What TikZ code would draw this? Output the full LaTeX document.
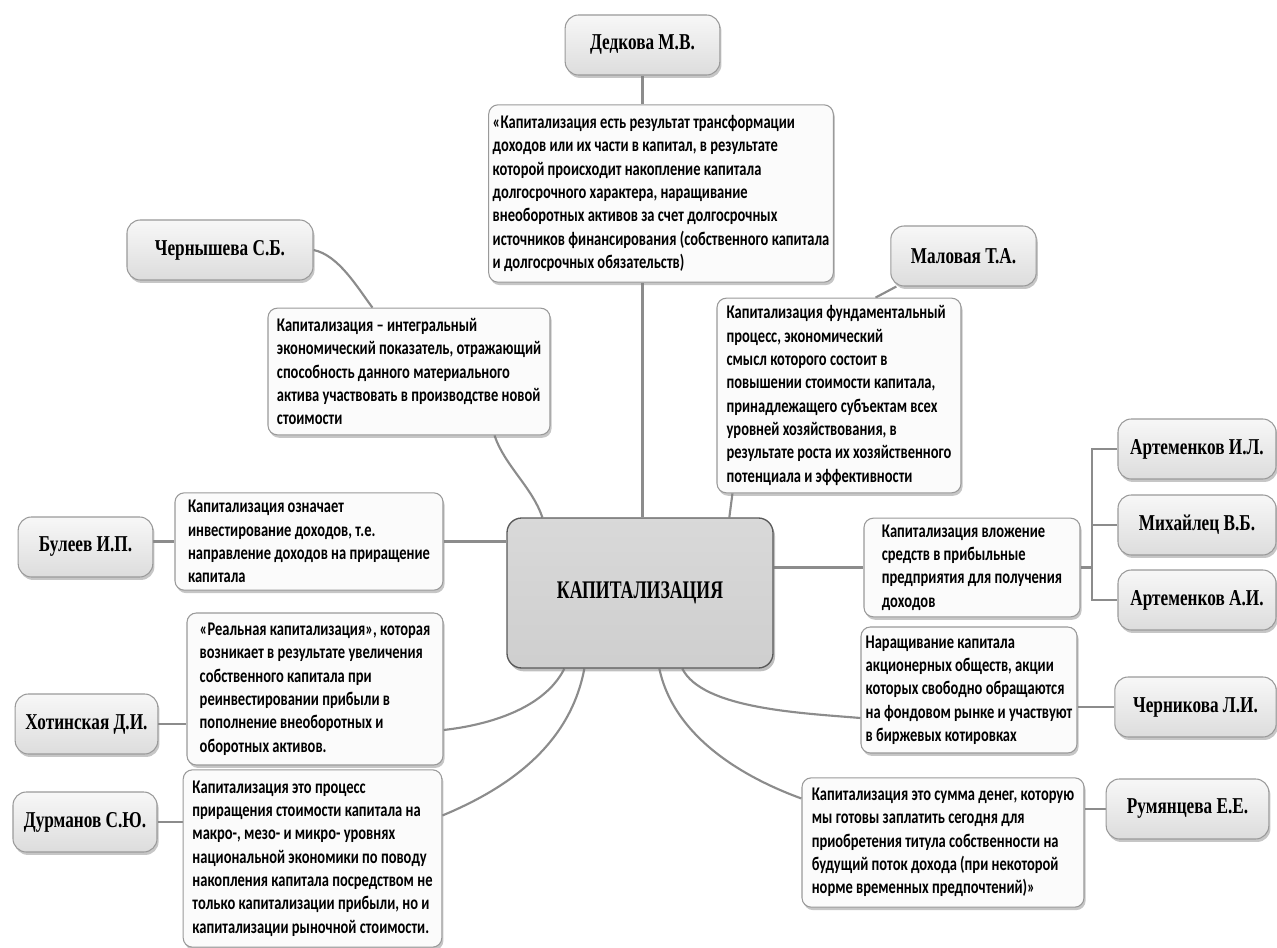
\documentclass[tikz,border=0pt]{standalone}
\usepackage{fontspec}
\setmainfont{Liberation Serif}[FakeStretch=0.76]
\newfontfamily\deffont{Carlito}[FakeStretch=0.75]
\newfontfamily\hubfont{Liberation Serif}[FakeStretch=0.7]
\usepackage{tikz}
\usetikzlibrary{positioning,calc,shadows,backgrounds}

\definecolor{linkgray}{HTML}{8C8C8C}
\definecolor{edgegray}{HTML}{9A9A9A}

\begin{document}
\begin{tikzpicture}[x=0.75pt,y=-0.75pt,
    link/.style={draw=linkgray,line width=1.6pt},
    author/.style={draw=edgegray,line width=0.8pt,rounded corners=10pt,
      top color=gray!6,bottom color=gray!27,minimum width=#1,minimum height=45pt,
      font=\bfseries\fontsize{17}{20}\selectfont,
      drop shadow={shadow xshift=1.2pt,shadow yshift=-2.2pt,opacity=.45}},
    idea/.style 2 args={draw=edgegray,line width=0.8pt,rounded corners=7pt,fill=gray!3,
      minimum width=#1,minimum height=#2,inner sep=3pt,align=left,
      font=\deffont\bfseries\fontsize{14.5}{17.5}\selectfont,
      drop shadow={shadow xshift=1.2pt,shadow yshift=-2.2pt,opacity=.45}},
    hub/.style={draw=gray!70!black,line width=1pt,rounded corners=11pt,
      top color=gray!30,bottom color=gray!38,
      minimum width=199.5pt,minimum height=112.5pt,font=\hubfont\bfseries\fontsize{19}{22}\selectfont,
      drop shadow={shadow xshift=1.5pt,shadow yshift=-2.5pt,opacity=.5}}]
  \useasboundingbox (0,0) rectangle (1277,948);

  \node[hub] (hub) at (640,593) {КАПИТАЛИЗАЦИЯ};

  \node[author=116pt] (dedk) at (642.5,45) {Дедкова М.В.};
  \node[author=139.5pt] (chern) at (220,250) {Чернышева С.Б.};
  \node[author=109pt] (malov) at (963.5,256) {Маловая Т.А.};
  \node[author=118.5pt] (artIL) at (1197,449) {Артеменков И.Л.};
  \node[author=118.5pt] (mikh) at (1197,525) {Михайлец В.Б.};
  \node[author=118.5pt] (artAI) at (1197,600) {Артеменков А.И.};
  \node[author=121pt] (chernik) at (1195.5,707) {Черникова Л.И.};
  \node[author=122pt] (rumyan) at (1187.5,809) {Румянцева Е.Е.};
  \node[author=101pt] (buleev) at (85.5,547) {Булеев И.П.};
  \node[author=107pt] (khot) at (86.5,724) {Хотинская Д.И.};
  \node[author=108pt] (durm) at (85,822) {Дурманов С.Ю.};

  \node[idea={256.5pt}{133pt}] (dDedk) at (661,193.5)
    {«Капитализация есть результат трансформации\\
     доходов или их части в капитал, в результате\\
     которой происходит накопление капитала\\
     долгосрочного характера, наращивание\\
     внеоборотных активов за счет долгосрочных\\
     источников финансирования (собственного капитала\\
     и долгосрочных обязательств)};
  \node[idea={211.5pt}{95pt}] (dChern) at (409,371.5)
    {Капитализация – интегральный\\
     экономический показатель, отражающий\\
     способность данного материального\\
     актива участвовать в производстве новой\\
     стоимости};
  \node[idea={183pt}{146pt}] (dMalov) at (839,395.5)
    {Капитализация фундаментальный\\
     процесс, экономический\\
     смысл которого состоит в\\
     повышении стоимости капитала,\\
     принадлежащего субъектам всех\\
     уровней хозяйствования, в\\
     результате роста их хозяйственного\\
     потенциала и эффективности};
  \node[idea={162pt}{74pt}] (dVloz) at (972,567.5)
    {Капитализация вложение\\
     средств в прибыльные\\
     предприятия для получения\\
     доходов};
  \node[idea={162pt}{94.5pt}] (dNar) at (969,690)
    {Наращивание капитала\\
     акционерных обществ, акции\\
     которых свободно обращаются\\
     на фондовом рынке и участвуют\\
     в биржевых котировках};
  \node[idea={211.5pt}{97pt}] (dRum) at (943,842.5)
    {Капитализация это сумма денег, которую\\
     мы готовы заплатить сегодня для\\
     приобретения титула собственности на\\
     будущий поток дохода (при некоторой\\
     норме временных предпочтений)»};
  \node[idea={201pt}{73pt}] (dBul) at (309,541.5)
    {Капитализация означает\\
     инвестирование доходов, т.е.\\
     направление доходов на приращение\\
     капитала};
  \node[idea={192pt}{114pt}] (dKhot) at (315,689)
    {«Реальная капитализация», которая\\
     возникает в результате увеличения\\
     собственного капитала при\\
     реинвестировании прибыли в\\
     пополнение внеоборотных и\\
     оборотных активов.};
  \node[idea={194pt}{133pt}] (dDurm) at (312.5,858.5)
    {Капитализация это процесс\\
     приращения стоимости капитала на\\
     макро-, мезо- и микро- уровнях\\
     национальной экономики по поводу\\
     накопления капитала посредством не\\
     только капитализации прибыли, но и\\
     капитализации рыночной стоимости.};

  \coordinate (brk) at (1092,525);

  \begin{scope}[on background layer]
  \draw[link] (dedk.south) -- (dedk.south |- dDedk.north);
  \draw[link] (dedk.south |- dDedk.south) -- (dedk.south |- hub.north);
  \draw[link] (chern.east) .. controls +(25,5) and +(-15,-20) .. ($(dChern.north west)+(105,0)$);
  \draw[link] ($(dChern.south west)+(227,0)$) .. controls +(10,30) and +(-10,-30) .. ($(hub.north west)+(36,0)$);
  \draw[link] ($(malov.south west)+(6,0)$) -- ($(dMalov.north west)+(159,0)$);
  \draw[link] ($(dMalov.south west)+(16,0)$) -- ($(hub.north west)+(223,0)$);
  \draw[link] (artIL.west) -- (artIL.west -| brk) -- (artAI.west -| brk) -- (artAI.west);
  \draw[link] (mikh.west) -- (mikh.west -| brk);
  \draw[link] (dVloz.east) -- (dVloz.east -| brk);
  \draw[link] (hub.east |- dVloz.west) -- (dVloz.west);
  \draw[link] (dBul.east) -- (dBul.east -| hub.west);
  \draw[link] (buleev.east |- dBul.west) -- (dBul.west);
  \draw[link] (khot.east) -- (khot.east -| dKhot.west);
  \draw[link] (durm.east) -- (durm.east -| dDurm.west);
  \draw[link] (dNar.east |- chernik.west) -- (chernik.west);
  \draw[link] (dRum.east |- rumyan.west) -- (rumyan.west);
  \draw[link] ($(hub.south west)+(58,0)$) .. controls +(-20,40) and +(45,-5) .. ($(dKhot.east)+(0,41)$);
  \draw[link] ($(hub.south west)+(78,0)$) .. controls +(-15,80) and +(60,-25) .. ($(dDurm.east)+(0,-43)$);
  \draw[link] ($(hub.south west)+(153,0)$) .. controls +(15,70) and +(-55,-20) .. ($(dRum.west)+(0,-44)$);
  \draw[link] ($(hub.south west)+(176,0)$) .. controls +(20,40) and +(-60,-5) .. ($(dNar.west)+(0,28)$);
  \end{scope}
\end{tikzpicture}
\end{document}
